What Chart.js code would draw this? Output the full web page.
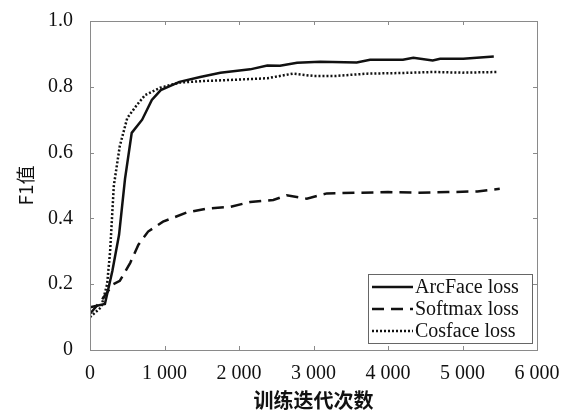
<!DOCTYPE html>
<html>
<head>
<meta charset="utf-8">
<script src="https://cdn.jsdelivr.net/npm/chart.js@4/dist/chart.umd.min.js"></script>
<style>
html, body { margin: 0; padding: 0; background: #fff; }
</style>
</head>
<body>
<canvas id="chart" width="573" height="415"></canvas>
<script>
// values
const seriesNames = ['ArcFace loss', 'Softmax loss', 'Cosface loss'];

const arcX = [0, 200, 300, 390, 470, 560, 700, 830, 950, 1200, 1480, 1750, 2150, 2380, 2550, 2780, 3090, 3580, 3760, 4200, 4340, 4600, 4700, 5010, 5420];
const arcY = [0.13, 0.14, 0.24, 0.35, 0.52, 0.66, 0.70, 0.76, 0.79, 0.815, 0.83, 0.843, 0.853, 0.865, 0.864, 0.873, 0.876, 0.874, 0.882, 0.882, 0.888, 0.88, 0.885, 0.885, 0.892];

const softX = [0, 150, 310, 400, 540, 650, 780, 980, 1300, 1570, 1880, 2150, 2460, 2640, 2910, 3180, 3600, 4000, 4400, 4800, 5200, 5500];
const softY = [0.11, 0.15, 0.2, 0.21, 0.265, 0.32, 0.36, 0.39, 0.418, 0.43, 0.435, 0.45, 0.456, 0.47, 0.46, 0.476, 0.478, 0.48, 0.478, 0.48, 0.482, 0.49];

const cosX = [0, 150, 230, 270, 320, 400, 500, 630, 740, 940, 1210, 1570, 2000, 2380, 2720, 3000, 3300, 3720, 4200, 4600, 5000, 5480];
const cosY = [0.10, 0.13, 0.2, 0.3, 0.5, 0.62, 0.705, 0.745, 0.775, 0.797, 0.813, 0.818, 0.822, 0.826, 0.84, 0.833, 0.833, 0.84, 0.842, 0.845, 0.843, 0.845];

const xTicks = [0, 1000, 2000, 3000, 4000, 5000, 6000];
const yTicks = [0, 0.2, 0.4, 0.6, 0.8, 1.0];

const ink = '#111';
const axisGray = '#8a8a8a';
const serif = '"Liberation Serif", "DejaVu Serif", serif';
const dashes = [[], [12, 7], [2, 2]];

function toPoints(xs, ys) {
    return xs.map((x, i) => ({ x: x, y: ys[i] }));
}

// inward tick marks on all four sides + frame
const frameTicks = {
    id: 'frameTicks',
    afterDraw(chart) {
        const { ctx, chartArea: a, scales } = chart;
        ctx.save();
        ctx.strokeStyle = axisGray;
        ctx.lineWidth = 1;
        ctx.strokeRect(a.left + 0.5, a.top + 0.5, a.right - a.left, a.bottom - a.top);
        const len = 4;
        ctx.beginPath();
        xTicks.forEach(v => {
            const px = Math.round(scales.x.getPixelForValue(v)) + 0.5;
            ctx.moveTo(px, a.bottom); ctx.lineTo(px, a.bottom - len);
            ctx.moveTo(px, a.top); ctx.lineTo(px, a.top + len);
        });
        yTicks.forEach(v => {
            const py = Math.round(scales.y.getPixelForValue(v)) + 0.5;
            ctx.moveTo(a.left, py); ctx.lineTo(a.left + len, py);
            ctx.moveTo(a.right, py); ctx.lineTo(a.right - len, py);
        });
        ctx.stroke();
        ctx.restore();
    }
};

// legend box in the lower right corner of the plot
const boxLegend = {
    id: 'boxLegend',
    afterDraw(chart) {
        const { ctx, chartArea: a } = chart;
        const w = 164, rowH = 22, h = 69;
        const x0 = a.right - 5 - w, y0 = a.bottom - 7 - h;
        ctx.save();
        ctx.fillStyle = '#fff';
        ctx.fillRect(x0, y0, w, h);
        ctx.strokeStyle = '#666';
        ctx.lineWidth = 1;
        ctx.strokeRect(x0 + 0.5, y0 + 0.5, w, h);
        ctx.font = '20px ' + serif;
        ctx.textBaseline = 'middle';
        ctx.fillStyle = ink;
        chart.data.datasets.forEach((ds, i) => {
            const cy = y0 + 13 + i * rowH;
            ctx.beginPath();
            ctx.setLineDash(ds.borderDash || []);
            ctx.lineWidth = ds.borderWidth;
            ctx.strokeStyle = ink;
            ctx.moveTo(x0 + 4, cy); ctx.lineTo(x0 + 45, cy);
            ctx.stroke();
            ctx.setLineDash([]);
            ctx.fillText(ds.label, x0 + 47, cy + 1);
        });
        ctx.restore();
    }
};

new Chart(document.getElementById('chart'), {
    type: 'line',
    data: {
        datasets: [
            { label: seriesNames[0], data: toPoints(arcX, arcY), borderDash: dashes[0] },
            { label: seriesNames[1], data: toPoints(softX, softY), borderDash: dashes[1] },
            { label: seriesNames[2], data: toPoints(cosX, cosY), borderDash: dashes[2] }
        ].map(ds => ({ ...ds, borderColor: ink, borderWidth: 2.5, pointRadius: 0, tension: 0, fill: false }))
    },
    options: {
        responsive: false,
        animation: false,
        layout: { padding: { top: 10, right: 36, left: 0, bottom: 0 } },
        plugins: { legend: { display: false }, tooltip: { enabled: false } },
        scales: {
            x: {
                type: 'linear',
                min: 0,
                max: 6000,
                afterFit: s => { s.height = 65; },
                afterBuildTicks: s => { s.ticks = xTicks.map(v => ({ value: v })); },
                grid: { display: false },
                border: { display: false },
                ticks: {
                    color: ink,
                    padding: 4,
                    maxRotation: 0,
                    font: { family: serif, size: 20 },
                    callback: v => v === 0 ? '0' : (v / 1000) + ' 000'
                },
                title: {
                    display: true,
                    text: '训练迭代次数',
                    color: ink,
                    padding: { top: 0, bottom: 3 },
                    font: { family: '"Noto Sans CJK SC"', size: 20, weight: 'bold' }
                }
            },
            y: {
                min: 0,
                max: 1,
                afterFit: s => { s.width = 90; },
                afterBuildTicks: s => { s.ticks = yTicks.map(v => ({ value: v })); },
                grid: { display: false },
                border: { display: false },
                ticks: {
                    color: ink,
                    padding: 9,
                    font: { family: serif, size: 20 },
                    callback: v => v === 0 ? '0' : v.toFixed(1)
                },
                title: {
                    display: true,
                    text: 'F1值',
                    color: ink,
                    padding: { top: 14, bottom: 0 },
                    font: { family: '"Noto Sans CJK SC"', size: 19 }
                }
            }
        }
    },
    plugins: [frameTicks, boxLegend]
});
</script>
</body>
</html>
